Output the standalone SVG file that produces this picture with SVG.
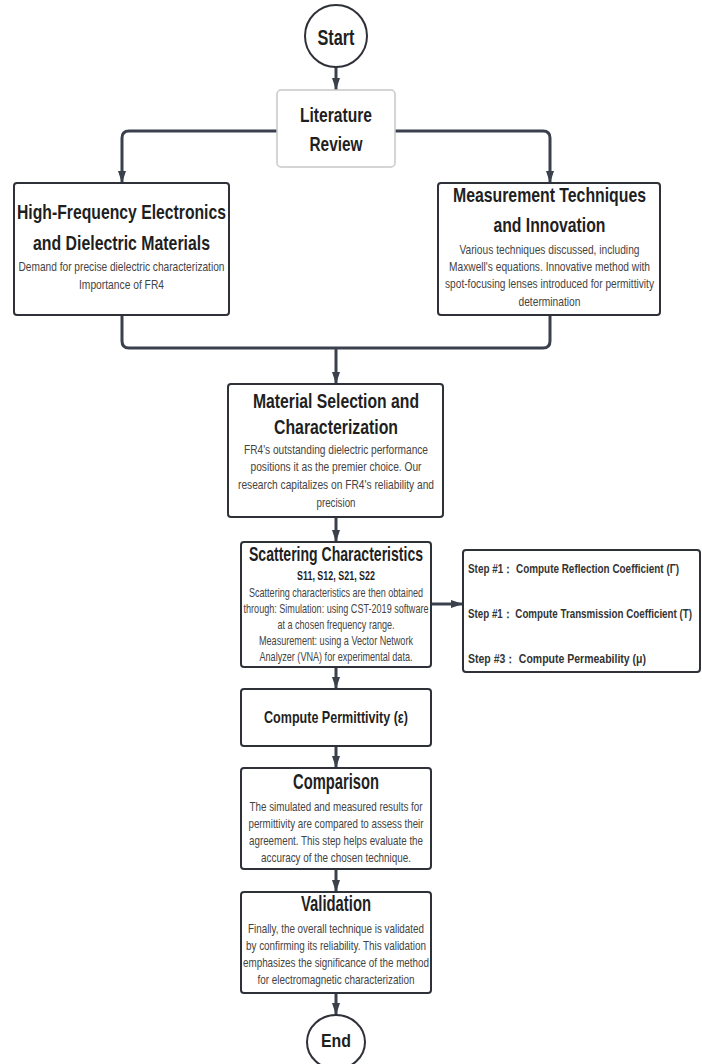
<svg xmlns="http://www.w3.org/2000/svg" width="702" height="1064" viewBox="0 0 702 1064">
<defs>
<style>
text{font-family:"Liberation Sans Narrow","Liberation Sans",Arial,sans-serif;}
.t{font-weight:bold;fill:#1f1f1f;text-anchor:middle;}
.s{fill:#444;text-anchor:middle;font-size:13px;}
.st{font-weight:bold;fill:#333;font-size:12px;}
.box{fill:#fff;stroke:#2e3138;stroke-width:2;}
.conn{fill:none;stroke:#3a404c;stroke-width:3;stroke-linejoin:round;}
</style>
<marker id="ah" viewBox="0 0 12 8" refX="12" refY="4" markerWidth="12" markerHeight="8" markerUnits="userSpaceOnUse" orient="auto">
<path d="M0,0 L12,4 L0,8 Z" fill="#3a404c"/>
</marker>
</defs>
<rect width="702" height="1064" fill="#fff"/>

<g id="connectors">
<path class="conn" d="M336,67 V90" marker-end="url(#ah)"/>
<path class="conn" d="M277,131 H129 Q122,131 122,138 V183" marker-end="url(#ah)"/>
<path class="conn" d="M395,131 H543 Q550,131 550,138 V183" marker-end="url(#ah)"/>
<path class="conn" d="M122,315 V341 Q122,348 129,348 H336"/>
<path class="conn" d="M550,315 V341 Q550,348 543,348 H336"/>
<path class="conn" d="M336,348 V384" marker-end="url(#ah)"/>
<path class="conn" d="M336,517 V542" marker-end="url(#ah)"/>
<path class="conn" d="M431,604 H463" marker-end="url(#ah)"/>
<path class="conn" d="M336,667 V689" marker-end="url(#ah)"/>
<path class="conn" d="M336,746 V768" marker-end="url(#ah)"/>
<path class="conn" d="M336,869 V892" marker-end="url(#ah)"/>
<path class="conn" d="M336,993 V1015" marker-end="url(#ah)"/>
</g>

<g id="start">
<circle cx="336" cy="36" r="31" fill="#fff" stroke="#2e3138" stroke-width="2"/>
<text class="t" x="336" y="45" font-size="22" textLength="37" lengthAdjust="spacingAndGlyphs">Start</text>
</g>

<g id="literature-review">
<rect x="277" y="90" width="118" height="77" rx="4" fill="#fff" stroke="#c8c8c8" stroke-width="1.5"/>
<text class="t" x="336" y="122" font-size="21" textLength="72" lengthAdjust="spacingAndGlyphs">Literature</text>
<text class="t" x="336" y="151" font-size="21" textLength="53" lengthAdjust="spacingAndGlyphs">Review</text>
</g>

<g id="high-frequency">
<rect class="box" x="14" y="183" width="215" height="132" rx="3"/>
<text class="t" x="121.5" y="219" font-size="21" textLength="209" lengthAdjust="spacingAndGlyphs">High-Frequency Electronics</text>
<text class="t" x="121.5" y="250" font-size="21" textLength="177" lengthAdjust="spacingAndGlyphs">and Dielectric Materials</text>
<text class="s" x="121.5" y="271" textLength="206" lengthAdjust="spacingAndGlyphs">Demand for precise dielectric characterization</text>
<text class="s" x="121.5" y="289" textLength="85" lengthAdjust="spacingAndGlyphs">Importance of FR4</text>
</g>

<g id="measurement">
<rect class="box" x="438" y="183" width="222" height="132" rx="3"/>
<g transform="translate(549.5 0) scale(0.82 1) translate(-549.5 0)">
<text class="t" x="549.5" y="202" font-size="21" textLength="235.4" lengthAdjust="spacingAndGlyphs">Measurement Techniques</text>
<text class="t" x="549.5" y="232" font-size="21" textLength="136.6" lengthAdjust="spacingAndGlyphs">and Innovation</text>
<text class="s" x="549.5" y="254" textLength="219.5" lengthAdjust="spacingAndGlyphs">Various techniques discussed, including</text>
<text class="s" x="549.5" y="271" textLength="245.1" lengthAdjust="spacingAndGlyphs">Maxwell's equations. Innovative method with</text>
<text class="s" x="549.5" y="288" textLength="254.9" lengthAdjust="spacingAndGlyphs">spot-focusing lenses introduced for permittivity</text>
<text class="s" x="549.5" y="306" textLength="75.6" lengthAdjust="spacingAndGlyphs">determination</text>
</g>
</g>

<g id="material">
<rect class="box" x="228" y="384" width="215" height="133" rx="3"/>
<text class="t" x="336" y="408" font-size="21" textLength="166" lengthAdjust="spacingAndGlyphs">Material Selection and</text>
<text class="t" x="336" y="434" font-size="21" textLength="124" lengthAdjust="spacingAndGlyphs">Characterization</text>
<text class="s" x="336" y="454" textLength="184" lengthAdjust="spacingAndGlyphs">FR4's outstanding dielectric performance</text>
<text class="s" x="336" y="471" textLength="171" lengthAdjust="spacingAndGlyphs">positions it as the premier choice. Our</text>
<text class="s" x="336" y="489" textLength="196" lengthAdjust="spacingAndGlyphs">research capitalizes on FR4's reliability and</text>
<text class="s" x="336" y="507" textLength="39" lengthAdjust="spacingAndGlyphs">precision</text>
</g>

<g id="scattering">
<rect class="box" x="241" y="542" width="190" height="125" rx="3"/>
<text class="t" x="336" y="561" font-size="21" textLength="174" lengthAdjust="spacingAndGlyphs">Scattering Characteristics</text>
<text class="t" x="336" y="580" font-size="13" textLength="78" lengthAdjust="spacingAndGlyphs">S11, S12, S21, S22</text>
<text class="s" x="336" y="597" textLength="174" lengthAdjust="spacingAndGlyphs">Scattering characteristics are then obtained</text>
<text class="s" x="336" y="613" textLength="185" lengthAdjust="spacingAndGlyphs">through: Simulation: using CST-2019 software</text>
<text class="s" x="336" y="629" textLength="117" lengthAdjust="spacingAndGlyphs">at a chosen frequency range.</text>
<text class="s" x="336" y="645" textLength="154" lengthAdjust="spacingAndGlyphs">Measurement: using a Vector Network</text>
<text class="s" x="336" y="661" textLength="153" lengthAdjust="spacingAndGlyphs">Analyzer (VNA) for experimental data.</text>
</g>

<g id="steps">
<rect class="box" x="463" y="550" width="237" height="122" rx="3"/>
<g transform="translate(468 0) scale(0.82 1) translate(-468 0)">
<text class="st" x="468" y="573" textLength="257.3" lengthAdjust="spacingAndGlyphs">Step #1：  Compute Reflection Coefficient (Γ)</text>
<text class="st" x="468" y="618" font-size="11.5" textLength="273.2" lengthAdjust="spacingAndGlyphs">Step #1：  Compute Transmission Coefficient (T)</text>
<text class="st" x="468" y="663" textLength="217.1" lengthAdjust="spacingAndGlyphs">Step #3：  Compute Permeability (μ)</text>
</g>
</g>

<g id="permittivity">
<rect class="box" x="241" y="689" width="190" height="57" rx="3"/>
<text class="t" x="336" y="723" font-size="17" textLength="144" lengthAdjust="spacingAndGlyphs">Compute Permittivity (ε)</text>
</g>

<g id="comparison">
<rect class="box" x="241" y="768" width="190" height="101" rx="3"/>
<text class="t" x="336" y="789" font-size="22" textLength="86" lengthAdjust="spacingAndGlyphs">Comparison</text>
<text class="s" x="336" y="811" textLength="173" lengthAdjust="spacingAndGlyphs">The simulated and measured results for</text>
<text class="s" x="336" y="828" textLength="175" lengthAdjust="spacingAndGlyphs">permittivity are compared to assess their</text>
<text class="s" x="336" y="845" textLength="174" lengthAdjust="spacingAndGlyphs">agreement. This step helps evaluate the</text>
<text class="s" x="336" y="862" textLength="150" lengthAdjust="spacingAndGlyphs">accuracy of the chosen technique.</text>
</g>

<g id="validation">
<rect class="box" x="241" y="892" width="190" height="101" rx="3"/>
<text class="t" x="336" y="911" font-size="22" textLength="70" lengthAdjust="spacingAndGlyphs">Validation</text>
<text class="s" x="336" y="933" textLength="176" lengthAdjust="spacingAndGlyphs">Finally, the overall technique is validated</text>
<text class="s" x="336" y="950" textLength="180" lengthAdjust="spacingAndGlyphs">by confirming its reliability. This validation</text>
<text class="s" x="336" y="967" textLength="186" lengthAdjust="spacingAndGlyphs">emphasizes the significance of the method</text>
<text class="s" x="336" y="984" textLength="157" lengthAdjust="spacingAndGlyphs">for electromagnetic characterization</text>
</g>

<g id="end">
<ellipse cx="336" cy="1042" rx="29" ry="27" fill="#fff" stroke="#2e3138" stroke-width="2"/>
<text class="t" x="336" y="1047" font-size="19" textLength="30" lengthAdjust="spacingAndGlyphs">End</text>
</g>
</svg>
